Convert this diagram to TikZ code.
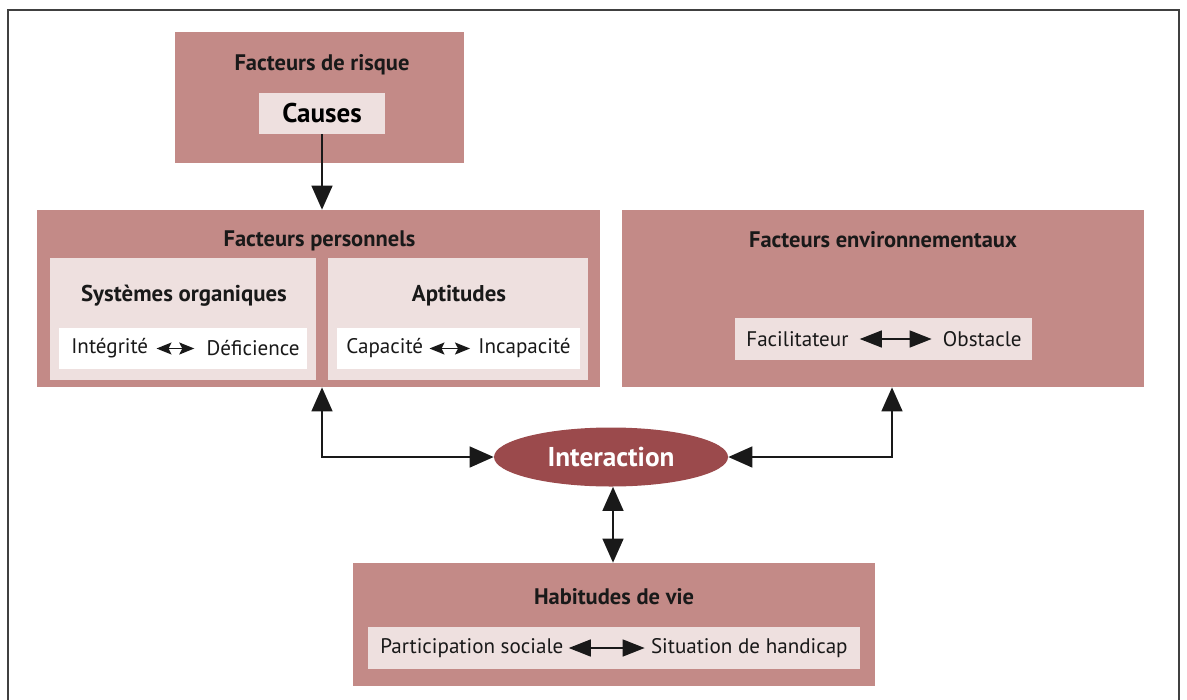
\documentclass[tikz,border=0pt]{standalone}
\usepackage{fontspec}
\setmainfont{PT Sans}
\usepackage{tikz}
\usetikzlibrary{positioning,arrows.meta,calc,shapes.geometric}
\usepackage{xcolor}
\definecolor{roseout}{HTML}{C38A87}
\definecolor{rosein}{HTML}{EEE0DF}
\definecolor{bordeaux}{HTML}{9B4A4C}

\begin{document}
\begin{tikzpicture}[
  x=0.02cm, y=-0.02cm,
  font=\fontsize{12}{14}\selectfont,
  >=Triangle,
  bigbox/.style 2 args={fill=roseout, inner sep=0pt, minimum width=#1*0.02cm, minimum height=#2*0.02cm},
  lightbox/.style 2 args={fill=rosein, inner sep=0pt, minimum width=#1*0.02cm, minimum height=#2*0.02cm},
  whitebox/.style 2 args={fill=white, inner sep=0pt, minimum width=#1*0.02cm, minimum height=#2*0.02cm},
  boxtitle/.style={font=\fontsize{12.8}{15}\selectfont\bfseries, text=black!90},
  word/.style={inner sep=0pt, text=black!90},
  link/.style={line width=0.8pt, black!90},
  biglink/.style={link, {Triangle[length=0.48cm, width=0.42cm]}-{Triangle[length=0.48cm, width=0.42cm]}},
]
  % Frame
  \useasboundingbox (0,0) rectangle (1187,700);
  \draw[line width=1.2pt, black!75] (8,700) -- (8,10) -- (1179,10) -- (1179,700);

  % Facteurs de risque
  \node[bigbox={289}{131}] (risque) at (319.5,97.5) {};
  \node[boxtitle] (risqueT) at (322,65) {Facteurs de risque};
  \node[lightbox={126}{41}, font=\fontsize{15.4}{17}\selectfont\bfseries] (causes) at (322,113.5) {Causes};

  % Facteurs personnels
  \node[bigbox={563}{177}] (perso) at (318.5,298.5) {};
  \node[boxtitle] (persoT) at (319.5,241) {Facteurs personnels};
  \node[lightbox={266}{122}] (syst) at (183,319) {};
  \node[lightbox={260}{122}] (apt) at (458,319) {};
  \node[boxtitle, font=\fontsize{13}{15}\selectfont\bfseries] (systT) at (184,296) {Systèmes organiques};
  \node[boxtitle, font=\fontsize{13}{15}\selectfont\bfseries] (aptT) at (459,296) {Aptitudes};
  \node[whitebox={248}{41}] (systW) at (183,348.5) {};
  \node[whitebox={243}{41}] (aptW) at (458.5,348.5) {};
  \node[word, anchor=west] (integ) at (71,348.5) {Intégrité};
  \node[word, anchor=east] (defic) at (300,348.5) {Déficience};
  \node[word, anchor=west] (capa) at (346,348.5) {Capacité};
  \node[word, anchor=east] (incapa) at (571,348.5) {Incapacité};

  % Facteurs environnementaux
  \node[bigbox={522}{177}] (env) at (883,298.5) {};
  \node[boxtitle] (envT) at (883,240) {Facteurs environnementaux};
  \node[lightbox={297}{42}] (envL) at (883.5,339) {};
  \node[word, anchor=west] (facil) at (746,339) {Facilitateur};
  \node[word, anchor=east] (obst) at (1022,339) {Obstacle};

  % Interaction
  \node[ellipse, fill=bordeaux, inner sep=0pt, minimum width=234*0.02cm, minimum height=59*0.02cm,
        text=white, font=\fontsize{15.5}{17}\selectfont\bfseries] (inter) at (611,457) {Interaction};

  % Habitudes de vie
  \node[bigbox={522}{123}] (hab) at (614,624.5) {};
  \node[boxtitle] (habT) at (614,597) {Habitudes de vie};
  \node[lightbox={492}{42}] (habL) at (614,648) {};
  \node[word, anchor=west] (partic) at (380,648) {Participation sociale};
  \node[word, anchor=east] (situ) at (848,648) {Situation de handicap};

  % Inline arrows
  \draw[link, {Stealth[length=0.3cm, width=0.24cm, inset=0.06cm]}-{Stealth[length=0.3cm, width=0.24cm, inset=0.06cm]}]
    ([xshift=0.16cm]integ.east) -- ([xshift=-0.24cm]defic.west);
  \draw[link, {Stealth[length=0.3cm, width=0.24cm, inset=0.06cm]}-{Stealth[length=0.3cm, width=0.24cm, inset=0.06cm]}]
    ([xshift=0.12cm]capa.east) -- ([xshift=-0.16cm]incapa.west);
  \draw[link, {Triangle[length=0.44cm, width=0.34cm]}-{Triangle[length=0.44cm, width=0.34cm]}]
    ([xshift=0.22cm]facil.east) -- ([xshift=-0.22cm]obst.west);
  \draw[link, {Triangle[length=0.44cm, width=0.34cm]}-{Triangle[length=0.44cm, width=0.34cm]}]
    ([xshift=0.1cm]partic.east) -- ([xshift=-0.12cm]situ.west);

  % Connectors
  \draw[link, -{Triangle[length=0.48cm, width=0.42cm]}] (causes.south) -- (causes.south |- perso.north);
  \draw[biglink] (causes.south |- perso.south) |- (inter.west);
  \draw[biglink] ([xshift=0.18cm]env.south) |- (inter.east);
  \draw[biglink] ([xshift=0.04cm]inter.south) -- ([xshift=0.04cm]inter.south |- hab.north);
\end{tikzpicture}
\end{document}
